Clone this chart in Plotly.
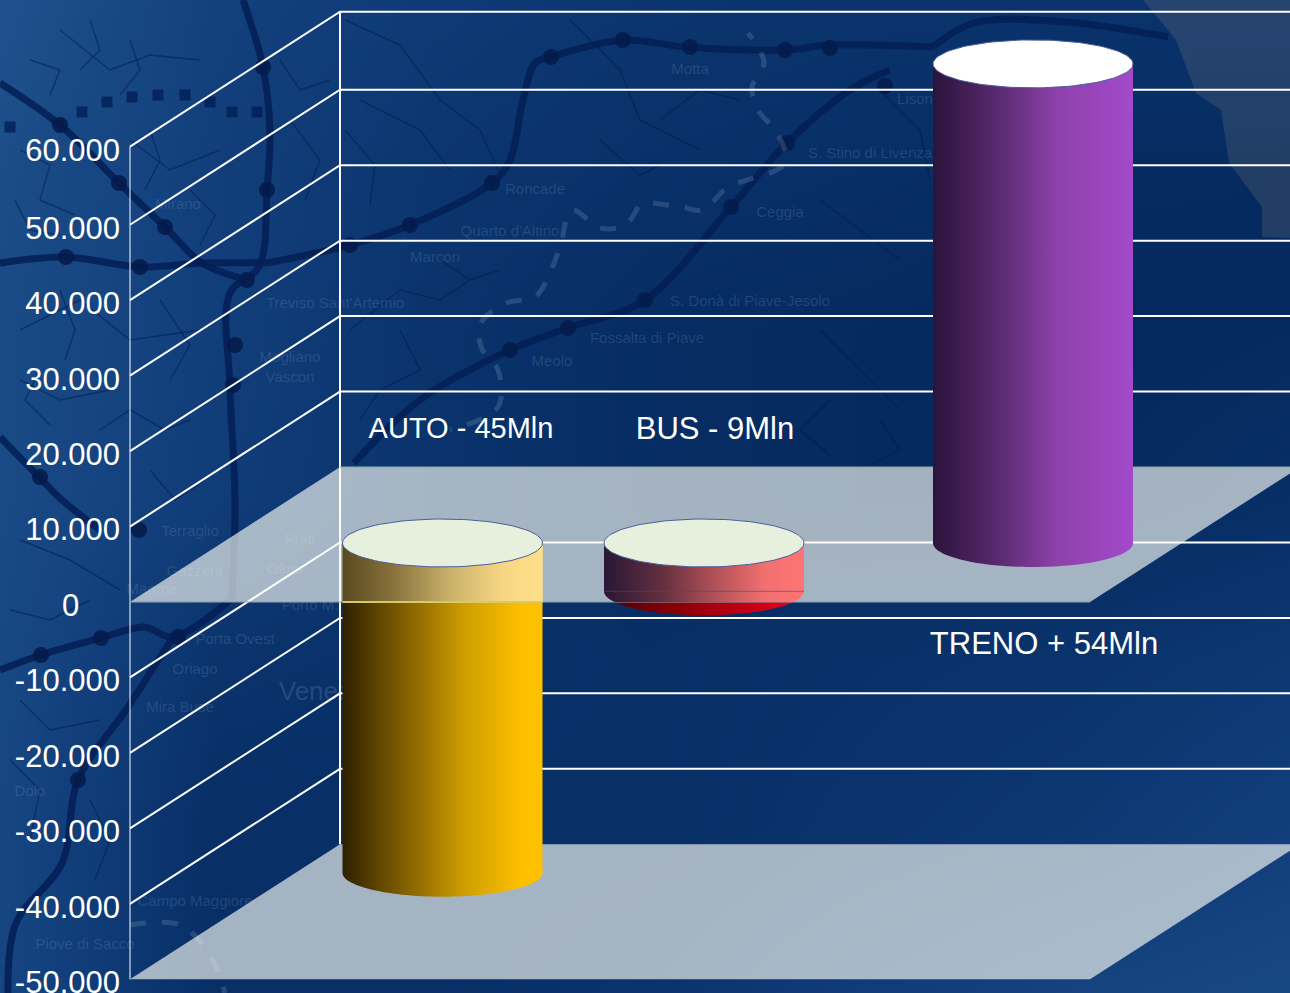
import numpy as np
import plotly.graph_objects as go

# ---- chart data ----
categories = ["AUTO", "BUS", "TRENO"]
series_values = [-43700, -6400, 63500]
bar_labels = ["AUTO - 45Mln", "BUS - 9Mln", "TRENO + 54Mln"]
tick_values = [60350, 50000, 40000, 30000, 20000, 10000, 0, -10000, -20000, -30000, -40000, -50000]
tick_labels = ["60.000", "50.000", "40.000", "30.000", "20.000", "10.000", "0\u00a0\u00a0\u00a0\u00a0\u2009",
               "-10.000", "-20.000", "-30.000", "-40.000", "-50.000"]

# ---- geometry of the fake-3D chart (pixels of the 1290x993 page) ----
W, H = 1290, 993
PX_PER_UNIT = 75.45 / 10000
Y0 = 602
def v_of(py):
    return (Y0 - py) / PX_PER_UNIT
DX, DV = 210, 135 / PX_PER_UNIT       # depth of the box
LEFT = 130
FRONT_R = 1090
BAR_CX = [442.5, 704, 1033]
BAR_RX = 100
BAR_RY = 24 / PX_PER_UNIT
BAR_D = 59 / PX_PER_UNIT

# ---- background map (decorative) ----
bg_x = [0, 215, 430, 645, 860, 1075, 1290]
bg_y = [0, 165, 330, 500, 660, 830, 993]
bg_z = [[.95, .60, .45, .35, .30, .30, .30],
        [.85, .55, .35, .25, .20, .12, .10],
        [.80, .55, .30, .15, .10, .05, .10],
        [.80, .50, .30, .15, .10, .10, .20],
        [.75, .30, .25, .20, .25, .30, .40],
        [.70, .20, .20, .20, .30, .40, .55],
        [.70, .20, .20, .30, .50, .65, .75]]
rail_lines = [
    [(0,83),(60,125),(119,183),(165,227),(202,263),(247,280)],
    [(243,0),(263,67),(270,133),(267,190),(259,267),(230,293),(230,387),(235,500),(232,600)],
    [(0,263),(66,257),(140,267),(202,263),(267,263)],
    [(267,263),(350,245),(410,225),(492,183),(510,160),(523,100),(535,63),(551,57),(623,40),(686,47),(785,50),(830,45),(933,47)],
    [(933,47),(974,23),(1065,22),(1168,37)],
    [(354,463),(420,400),(510,350),(568,328),(645,300),(731,207),(787,143),(850,90),(890,70)],
    [(0,437),(39,477),(62,500),(100,530)],
    [(0,670),(41,655),(101,638),(144,627),(173,637),(230,600)],
    [(173,637),(128,707),(78,780),(62,863),(16,923),(8,993)],
]
rail_stops = [(60,125),(119,183),(165,227),(66,257),(140,267),(247,280),(263,67),(267,190),(350,245),(410,225),
              (492,183),(551,57),(623,40),(690,47),(785,50),(830,48),(510,350),(568,328),(645,300),(731,207),
              (787,143),(885,86),(40,477),(235,345),(233,385),(41,655),(101,638),(178,637),(139,530),(78,780)]
dotted_stops = [(10,127),(82,112),(107,102),(132,97),(158,95),(185,95),(210,102),(232,112),(257,112)]
dashes_path = [(638,207),(625,225),(600,228),(572,210),(560,247),(551,270),(535,297),(506,303),(481,323),
               (481,347),(498,370),(498,407),(450,430)]
dashes_path2 = [(653,203),(682,207),(703,210),(727,188),(785,163),(777,133),(758,110),(752,87),(764,63),(748,33)]
dashes_path3 = [(130,925),(180,925),(210,955),(225,993)]
thin_roads = [
    [(345,20),(400,45),(440,100),(480,130),(500,175)],
    [(360,100),(420,130),(450,170)],
    [(60,30),(110,70),(150,55),(200,60)],
    [(130,40),(140,70),(120,95)],
    [(90,20),(100,50),(80,70)],
    [(30,60),(60,70),(50,95)],
    [(130,140),(170,170),(220,150)],
    [(150,130),(160,160),(145,190)],
    [(190,190),(215,215),(200,245)],
    [(20,150),(50,165),(40,200),(75,215)],
    [(15,200),(30,230),(60,235)],
    [(20,330),(80,300),(130,340),(200,330)],
    [(60,290),(75,330),(65,360)],
    [(160,300),(190,345),(170,380)],
    [(40,370),(25,400),(50,425)],
    [(100,430),(130,410),(165,430),(190,420)],
    [(150,470),(175,500),(205,480)],
    [(280,60),(300,90),(330,80)],
    [(290,120),(320,160),(305,200)],
    [(350,330),(400,290),(440,300),(470,280)],
    [(400,330),(420,370),(380,390),(360,420)],
    [(345,130),(375,165),(370,205)],
    [(440,260),(470,280),(500,270)],
    [(570,20),(620,70),(640,120),(700,150)],
    [(660,120),(700,90),(740,100)],
    [(600,140),(640,175),(660,165)],
    [(880,90),(920,130),(930,180)],
    [(1000,420),(1060,370),(1110,395)],
    [(820,330),(860,370),(900,410)],
    [(900,260),(860,230),(820,200)],
    [(830,400),(800,430),(830,455)],
    [(880,420),(900,450),(870,465)],
    [(20,540),(70,560),(120,590)],
    [(20,380),(60,400),(110,390)],
    [(10,610),(50,620),(90,600)],
    [(20,700),(50,730),(100,720)],
    [(10,760),(40,790),(30,840)],
    [(90,800),(110,840),(95,880)],
]
land_edge = [(1143,0),(1176,40),(1196,93),(1221,110),(1229,163),(1262,207),(1262,237),(1290,238),(1290,0)]
map_names = ["S. Stino di Livenza", "Ceggia", "S. Donà di Piave-Jesolo", "Fossalta di Piave", "Meolo",
             "Quarto d'Altino", "Roncade", "Treviso Sant'Artemio", "Motta", "Vascon", "Marcon", "Terraglio",
             "Gazzera", "Maerne", "Porta Ovest", "Oriago", "Mira Buse", "Piove di Sacco", "Campo Maggiore",
             "Mirano", "Dolo", "Olmo", "Porto M.", "Frati", "Lison", "Mogliano"]
map_name_xy = [(870,154),(780,213),(750,302),(647,339),(552,362),(510,232),(535,190),(335,304),(690,70),(290,378),
               (435,258),(190,532),(195,572),(152,590),(235,640),(195,670),(180,708),(85,945),(195,902),
               (178,205),(30,792),(285,570),(310,606),(300,540),(915,100),(290,358)]
map_name_size = [15]*len(map_names)

fig = go.Figure()

# map layer on the main, hidden pixel axes
fig.add_trace(go.Heatmap(x=bg_x, y=bg_y, z=bg_z, zsmooth="best", showscale=False, zmin=0, zmax=1, hoverinfo="skip",
                         colorscale=[[0, "#02265a"], [0.5, "#103c78"], [1, "#205490"]]))
def map_line(pts, color, width, dash=None, shape="spline"):
    xs, ys = zip(*pts)
    fig.add_trace(go.Scatter(x=xs, y=ys, mode="lines", hoverinfo="skip", showlegend=False,
                             line=dict(color=color, width=width, dash=dash, shape=shape)))
xs, ys = zip(*land_edge)
fig.add_trace(go.Scatter(x=xs, y=ys, mode="lines", fill="toself", fillcolor="rgba(150,140,130,0.2)",
                         line=dict(width=0), hoverinfo="skip", showlegend=False))
for r in thin_roads:
    map_line(r, "rgba(2,28,75,0.5)", 1.5, shape="linear")
for r in rail_lines:
    map_line(r, "rgba(3,30,85,0.85)", 7)
xs, ys = zip(*rail_stops)
fig.add_trace(go.Scatter(x=xs, y=ys, mode="markers", marker=dict(color="rgba(3,28,75,0.9)", size=16),
                         hoverinfo="skip", showlegend=False))
xs, ys = zip(*dotted_stops)
fig.add_trace(go.Scatter(x=xs, y=ys, mode="markers", marker=dict(color="rgba(3,30,85,0.8)", size=11, symbol="square"),
                         hoverinfo="skip", showlegend=False))
for p in (dashes_path, dashes_path2, dashes_path3):
    map_line(p, "rgba(150,175,205,0.22)", 5, "16px,16px")
xs, ys = zip(*map_name_xy)
fig.add_trace(go.Scatter(x=xs, y=ys, mode="text", text=map_names, hoverinfo="skip", showlegend=False,
                         textfont=dict(family="Liberation Sans", size=map_name_size, color="rgba(130,160,200,0.22)")))
fig.add_trace(go.Scatter(x=[325], y=[693], mode="text", text=["Venezia"], hoverinfo="skip", showlegend=False,
                         textfont=dict(family="Liberation Sans", size=26, color="rgba(130,160,200,0.24)")))

# chart layer on the overlaying axes
def line2(x, y, color, width):
    fig.add_trace(go.Scatter(x=x, y=y, xaxis="x2", yaxis="y2", mode="lines", hoverinfo="skip", showlegend=False,
                             line=dict(color=color, width=width)))
def poly2(x, y, fill, edge=None, width=0):
    fig.add_trace(go.Scatter(x=x, y=y, xaxis="x2", yaxis="y2", mode="lines", fill="toself", fillcolor=fill,
                             hoverinfo="skip", showlegend=False, line=dict(color=edge or fill, width=width)))

vmin, vmax = tick_values[-1], tick_values[0]
# front vertical, back vertical, wall grid and side diagonals
line2([LEFT, LEFT], [vmin, vmax], "white", 1)
line2([LEFT + DX, LEFT + DX], [vmin + DV, vmax + DV], "white", 2)
for v in tick_values:
    if v in (0, vmin):
        continue
    line2([LEFT, LEFT + DX, W + 20], [v, v + DV, v + DV], "white", 2)

def floor(v, alpha):
    poly2([LEFT, LEFT + DX, FRONT_R + DX, FRONT_R, LEFT], [v, v + DV, v + DV, v, v], f"rgba(250,252,245,{alpha})")

theta = np.linspace(0, 2 * np.pi, 121)
half = np.linspace(np.pi, 2 * np.pi, 61)

def cylinder_body(cx, v_top, v_bot, scale):
    x = np.concatenate([[cx - BAR_RX], cx + BAR_RX * np.cos(half), [cx + BAR_RX, cx - BAR_RX]])
    y = np.concatenate([[v_top], v_bot + BAR_RY * np.sin(half), [v_top, v_top]])
    fig.add_trace(go.Scatter(x=x, y=y, xaxis="x2", yaxis="y2", mode="none", fill="toself", hoverinfo="skip",
                             showlegend=False,
                             fillgradient=dict(type="horizontal", colorscale=scale,
                                               start=cx - BAR_RX, stop=cx + BAR_RX)))

def cylinder_section(cx, v_top, v_bot, v_clip, scale):
    c = np.clip(v_bot + BAR_RY * np.sin(half), v_clip, None)
    x = np.concatenate([[cx - BAR_RX], cx + BAR_RX * np.cos(half), [cx + BAR_RX, cx - BAR_RX]])
    y = np.concatenate([[v_top], c, [v_top, v_top]])
    fig.add_trace(go.Scatter(x=x, y=y, xaxis="x2", yaxis="y2", mode="none", fill="toself", hoverinfo="skip",
                             showlegend=False,
                             fillgradient=dict(type="horizontal", colorscale=scale,
                                               start=cx - BAR_RX, stop=cx + BAR_RX)))

def cap(cx, v, fill):
    poly2(cx + BAR_RX * np.cos(theta), v + BAR_RY * np.sin(theta), fill, "#4a5f9c", 1)

SC_AUTO = [[0, "#2e2000"], [0.35, "#8c6800"], [0.6, "#cc9c00"], [0.9, "#ffc000"], [1, "#ffc000"]]
SC_AUTO_UP = [[0, "#5a4a20"], [0.25, "#87713c"], [0.55, "#cdb46c"], [0.8, "#f6d682"], [1, "#ffe08a"]]
SC_BUS = [[0, "#4a0008"], [0.4, "#900008"], [1, "#f00020"]]
SC_BUS_UP = [[0, "#281636"], [0.3, "#66303f"], [0.55, "#b05058"], [0.8, "#f07070"], [1, "#ff7474"]]
SC_TRENO = [[0, "#2b133b"], [0.33, "#5a2a70"], [0.62, "#8d41aa"], [1, "#a34acb"]]

floor(vmin, 0.65)
top_level = BAR_D
auto_i, bus_i, treno_i = categories.index("AUTO"), categories.index("BUS"), categories.index("TRENO")

# below-zero cylinders sit behind the translucent zero plane
cylinder_body(BAR_CX[auto_i], top_level, series_values[auto_i] + BAR_D, SC_AUTO)
cylinder_body(BAR_CX[bus_i], top_level, series_values[bus_i] + BAR_D, SC_BUS)
floor(0, 0.65)
line2([LEFT, FRONT_R], [0, 0], "rgba(140,160,170,0.7)", 1.5)
line2([LEFT + DX, FRONT_R + DX], [DV, DV], "rgba(140,165,175,0.7)", 1.5)

cylinder_section(BAR_CX[auto_i], top_level, series_values[auto_i] + BAR_D, 0, SC_AUTO_UP)
line2([BAR_CX[auto_i] - BAR_RX, BAR_CX[auto_i] + BAR_RX], [0, 0], "#d8cc60", 2)
cylinder_section(BAR_CX[bus_i], top_level, series_values[bus_i] + BAR_D, 0, SC_BUS_UP)
line2([BAR_CX[bus_i] - BAR_RX, BAR_CX[bus_i] + BAR_RX],
      [series_values[bus_i] + BAR_D] * 2, "rgba(80,70,130,0.6)", 1)
cap(BAR_CX[auto_i], top_level, "#e6f0dd")
cap(BAR_CX[bus_i], top_level, "#e6f0dd")

# the positive cylinder stands on top of the plane
cylinder_body(BAR_CX[treno_i], series_values[treno_i] + BAR_D, top_level, SC_TRENO)
cap(BAR_CX[treno_i], series_values[treno_i] + BAR_D, "#ffffff")

label_px = [(461, 431, 29), (715, 431, 31), (1044, 646, 31)]
for txt, (lx, ly, ls) in zip(bar_labels, label_px):
    fig.add_trace(go.Scatter(x=[lx], y=[v_of(ly)], xaxis="x2", yaxis="y2", mode="text", text=[txt],
                             hoverinfo="skip", showlegend=False,
                             textfont=dict(family="Liberation Sans", size=ls, color="white")))

fig.update_layout(
    width=W, height=H, margin=dict(l=0, r=0, t=0, b=0, autoexpand=False), showlegend=False,
    paper_bgcolor="#0a2f66", plot_bgcolor="#0a2f66",
    xaxis=dict(range=[0, W], visible=False, domain=[0, 1]),
    yaxis=dict(range=[H, 0], visible=False, domain=[0, 1]),
    xaxis2=dict(range=[0, W], visible=False, overlaying="x", domain=[0, 1]),
    yaxis2=dict(range=[v_of(H), v_of(0)], overlaying="y", anchor="free", position=LEFT / W, side="left",
                automargin=False, tickmode="array", tickvals=tick_values, ticktext=tick_labels, ticks="",
                ticklabelstandoff=10, ticklabelshift=3, ticklabeloverflow="allow", showgrid=False,
                zeroline=False, showline=False,
                tickfont=dict(family="Liberation Sans", size=31, color="white")),
)
fig.write_html("out.html", config={"displayModeBar": False},
               post_script="document.body.style.margin='0';document.body.style.overflow='hidden';")
